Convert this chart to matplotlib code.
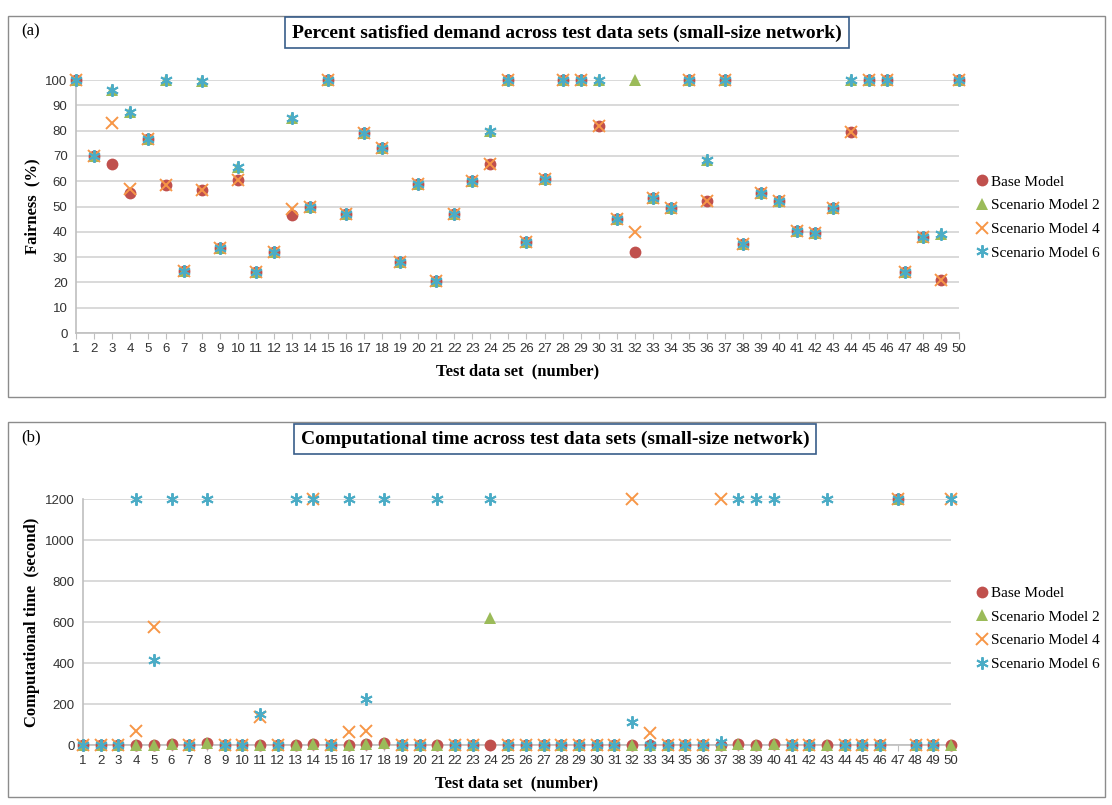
import numpy as np  # Numerical ops
import matplotlib
matplotlib.use("Agg")
import matplotlib.pyplot as plt  # Plotting
from matplotlib.patches import Rectangle  # Panel frames

nan = np.nan

# Test data sets 1..50
test_sets = list(range(1, 51))

# Panel (a): percent satisfied demand (fairness, %)
fair_base = [100, 70, 67, 55.5, 76.5, 58.5, 24.5, 56.5, 33.5, 60.5,
             24, 32, 46.5, 50, 100, 47, 79, 73, 28, 59,
             20.5, 47, 60, 67, 100, 36, 61, 100, 100, 82,
             45, 32, 53.5, 49.5, 100, 52, 100, 35, 55.5, 52,
             40.5, 39.5, 49.5, 79.5, 100, 100, 24, 38, 21, 100]
fair_s2 = [100, 70, 96, 87.5, 76.5, 100, 24.5, 99.5, 33.5, 65.5,
           24, 32, 85, 50, 100, 47, 79, 73, 28, 59,
           20.5, 47, 60, 80, 100, 36, 61, 100, 100, 100,
           45, 100, 53.5, 49.5, 100, 68.5, 100, 35, 55.5, 52,
           40.5, 39.5, 49.5, 100, 100, 100, 24, 38, 39, 100]
fair_s4 = [100, 70, 83, 57, 76.5, 58.5, 24.5, 56.5, 33.5, 60.5,
           24, 32, 49, 50, 100, 47, 79, 73, 28, 59,
           20.5, 47, 60, 67, 100, 36, 61, 100, 100, 82,
           45, 40, 53.5, 49.5, 100, 52, 100, 35, 55.5, 52,
           40.5, 39.5, 49.5, 79.5, 100, 100, 24, 38, 21, 100]
fair_s6 = [100, 70, 96, 87.5, 76.5, 100, 24.5, 99.5, 33.5, 65.5,
           24, 32, 85, 50, 100, 47, 79, 73, 28, 59,
           20.5, 47, 60, 80, 100, 36, 61, 100, 100, 100,
           45, nan, 53.5, 49.5, 100, 68.5, 100, 35, 55.5, 52,
           40.5, 39.5, 49.5, 100, 100, 100, 24, 38, 39, 100]

# Panel (b): computational time (seconds)
time_base = [0, 0, 0, 2, 1, 5, 0, 10, 0, 0,
             1, 0, 1, 5, 0, 2, 3, 10, 0, 0,
             1, 0, 0, 0, 0, 0, 0, 0, 0, 0,
             0, 1, 0, 0, 0, 0, 2, 3, 2, 3,
             0, 0, 1, 0, 0, 0, 1200, 0, 0, 1]
time_s2 = [0, 0, 0, 2, 1, 4, 0, 12, 0, 0,
           1, 0, 1, 4, 0, 2, 3, 12, 0, 0,
           1, 0, 0, 620, 0, 0, 0, 0, 0, 0,
           0, 1, 0, 0, 0, 0, 2, 3, 2, 3,
           0, 0, 1, 0, 0, 0, 1200, 0, 0, 1]
time_s4 = [0, 0, 0, 70, 578, nan, 0, nan, 0, 0,
           135, 0, nan, 1200, 0, 65, 70, nan, 0, 0,
           nan, 0, 0, nan, 0, 0, 0, 0, 0, 0,
           0, 1200, 60, 0, 0, 0, 1200, nan, nan, nan,
           0, 0, nan, 0, 0, 0, 1200, 0, 0, 1200]
time_s6 = [0, 0, 0, 1200, 415, 1200, 0, 1200, 0, 0,
           150, 0, 1200, 1200, 0, 1200, 225, 1200, 0, 0,
           1200, 0, 0, 1200, 0, 0, 0, 0, 0, 0,
           0, 110, 0, 0, 0, 0, 15, 1200, 1200, 1200,
           0, 0, 1200, 0, 0, 0, 1200, 0, 0, 1200]

series_names = ["Base Model", "Scenario Model 2", "Scenario Model 4", "Scenario Model 6"]
colors = ["#C0504D", "#9BBB59", "#F79646", "#4BACC6"]
markers = ["o", "^", "x", (6, 2, 0)]
sizes = [8.5, 8.5, 8, 9]

serif = "Liberation Serif"
sans = "Liberation Sans"


def draw_panel(fig, rect, series, ylim, yticks, ylabel, title, title_x, tag,
               frame, legend_y):
    """Scatter panel with Excel-like look: framed, boxed title, legend at right."""
    fig.add_artist(Rectangle((frame[0], frame[1]), frame[2], frame[3],
                             transform=fig.transFigure, fill=False,
                             ec="#8C8C8C", lw=1.0))
    ax = fig.add_axes(rect)
    handles = []
    for vals, name, c, m, s in zip(series, series_names, colors, markers, sizes):
        mew = 1.4 if m in ("x",) or isinstance(m, tuple) else 0
        h, = ax.plot(test_sets, vals, linestyle="none", marker=m, ms=s,
                     color=c, mec=c, mew=mew, clip_on=False, zorder=3,
                     label=name)
        handles.append(h)

    ax.set_xlim(1, 50)
    ax.set_ylim(*ylim)
    ax.set_xticks(test_sets)
    ax.set_xticklabels([str(t) for t in test_sets], fontsize=9.5,
                       family=sans, color="#333333")
    ax.set_yticks(yticks)
    ax.set_yticklabels([str(t) for t in yticks], fontsize=9.5,
                       family=sans, color="#333333")
    ax.tick_params(axis="x", length=4, color="#BFBFBF", pad=3)
    ax.tick_params(axis="y", length=0, pad=6)
    ax.grid(axis="y", color="#D9D9D9", lw=1.4, zorder=0)
    ax.set_axisbelow(True)
    for side in ("top", "right"):
        ax.spines[side].set_visible(False)
    for side in ("left", "bottom"):
        ax.spines[side].set_color("#BFBFBF")
        ax.spines[side].set_linewidth(1.2)

    ax.set_xlabel("Test data set  (number)", family=serif, fontsize=12,
                  fontweight="bold", labelpad=6)
    # y label placed at a fixed figure x so both panels line up
    fig.text(0.029, rect[1] + rect[3] / 2, ylabel, family=serif, fontsize=12,
             fontweight="bold", rotation=90, ha="center", va="center")

    fig.text(title_x, frame[1] + frame[3] - 0.021, title, family=serif,
             fontsize=14, fontweight="bold", ha="center", va="center",
             bbox=dict(boxstyle="square,pad=0.35", fc="white", ec="#385D8A",
                       lw=1.2))
    fig.text(0.019, frame[1] + frame[3] - 0.019, tag, family=serif,
             fontsize=12, ha="left", va="center")

    fig.legend(handles=handles, loc="center left",
               bbox_to_anchor=(0.877, legend_y), frameon=False,
               prop={"family": serif, "size": 11}, handlelength=0.9,
               handletextpad=0.15, labelspacing=0.65, borderpad=0,
               borderaxespad=0)
    return ax


fig = plt.figure(figsize=(11.12, 8.05), dpi=100)

draw_panel(fig, [0.0683, 0.5863, 0.7941, 0.3143],
           [fair_base, fair_s2, fair_s4, fair_s6], (0, 100),
           list(range(0, 101, 10)), "Fairness  (%)",
           "Percent satisfied demand across test data sets (small-size network)",
           0.510, "(a)", (0.0072, 0.5068, 0.9865, 0.4733), 0.730)

draw_panel(fig, [0.0746, 0.0745, 0.7806, 0.3056],
           [time_base, time_s2, time_s4, time_s6], (0, 1200),
           list(range(0, 1201, 200)), "Computational time  (second)",
           "Computational time across test data sets (small-size network)",
           0.499, "(b)", (0.0072, 0.0099, 0.9865, 0.4658), 0.219)

fig.savefig("out.png", dpi=100)
